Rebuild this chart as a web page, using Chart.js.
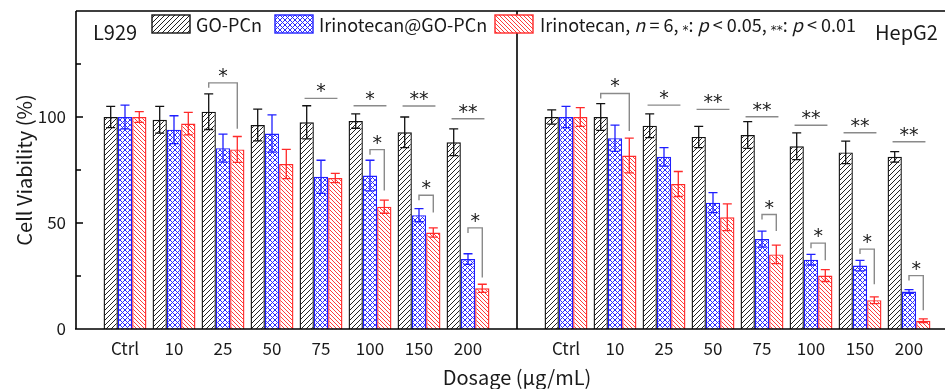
<!DOCTYPE html>
<html>
<head>
<meta charset="utf-8">
<script src="https://cdn.jsdelivr.net/npm/chart.js@4.4.1/dist/chart.umd.min.js"></script>
<style>
html, body { margin: 0; padding: 0; background: #fff; overflow: hidden; }
#wrap { width: 960px; height: 389px; }
</style>
</head>
<body>
<div id="wrap"><canvas id="cv" width="960" height="389"></canvas></div>
<script>
const FONT = '"Noto Sans CJK SC", "Noto Sans", sans-serif';
const STAR_FONT = '"DejaVu Sans", sans-serif';
const TEXT = '#1a1a1a';

// categories
const doses = ['Ctrl', '10', '25', '50', '75', '100', '150', '200'];
const panels = ['L929', 'HepG2'];
const seriesNames = ['GO-PCn', 'Irinotecan@GO-PCn', 'Irinotecan'];
const yMajor = [0, 50, 100];
const yMinor = [25, 75, 125];

// L929, mean and sd (%)
const l929GoPcn = [100, 98.7, 102.5, 96.2, 97.5, 98.1, 92.8, 88.1];
const l929GoPcnSd = [5, 6.3, 8.4, 7.5, 7.8, 3.4, 7.2, 6.3];
const l929IriGo = [100, 94, 85.3, 92.2, 71.8, 72.4, 53.7, 33];
const l929IriGoSd = [5.6, 6.6, 6.6, 8.8, 7.8, 7.2, 3.1, 2.5];
const l929Iri = [100, 96.9, 84.7, 77.8, 71.2, 57.7, 45.5, 19.2];
const l929IriSd = [2.5, 5.3, 6.1, 6.9, 2.2, 3.1, 2.2, 1.9];

// HepG2, mean and sd (%)
const hepGoPcn = [100, 100, 95.9, 90.6, 91.5, 86.2, 83.3, 81.2];
const hepGoPcnSd = [3.4, 6.3, 5.6, 5, 6.3, 6.3, 5.3, 2.5];
const hepIriGo = [100, 90, 81.2, 59.6, 42.4, 32.7, 29.9, 17.7];
const hepIriGoSd = [5, 6.2, 4.4, 4.7, 3.8, 2.5, 2.5, 0.9];
const hepIri = [100, 81.8, 68.4, 52.7, 35.2, 25.2, 13.6, 3.9];
const hepIriSd = [4.4, 8.2, 5.9, 6.3, 4.4, 2.8, 1.6, 0.9];

// significance marks: [group, kind, label, level, leg end]
// kind: 'line' over the group, 'br' GO-PCn vs Irinotecan, 'in' Irinotecan@GO-PCn vs Irinotecan
const l929Marks = [
    [2, 'br', '*', 116.1, 94.5],
    [4, 'line', '*', 108.8],
    [5, 'line', '*', 105.3],
    [5, 'in', '*', 84.6, 65.3],
    [6, 'line', '**', 105.2],
    [6, 'in', '*', 63.1, 54.9],
    [7, 'line', '**', 99.2],
    [7, 'in', '*', 47.7, 24.3],
];
const hepMarks = [
    [1, 'br', '*', 111.1, 93.4],
    [2, 'line', '*', 105.6],
    [3, 'line', '**', 103.6],
    [4, 'line', '**', 100.1],
    [4, 'in', '*', 54, 46.2],
    [5, 'line', '**', 96.1],
    [5, 'in', '*', 40.5, 32.4],
    [6, 'line', '**', 92.6],
    [6, 'in', '*', 37.7, 21.1],
    [7, 'line', '**', 88.3],
    [7, 'in', '*', 25.2, 8.9],
];

// one slot empty at both ends and between the two panels
const labels = ['', ...doses, '', ...doses, ''];
const join = (a, b) => [null, ...a, null, ...b, null];
const L929_OFF = 1, HEP_OFF = 10;

function hatch(color, kind, size) {
    const c = document.createElement('canvas');
    c.width = size; c.height = size;
    const g = c.getContext('2d');
    g.fillStyle = '#fff';
    g.fillRect(0, 0, size, size);
    g.strokeStyle = color;
    g.lineWidth = 1;
    const fwd = () => {
        g.beginPath();
        g.moveTo(-1, size + 1); g.lineTo(size + 1, -1);
        g.moveTo(-1, 1); g.lineTo(1, -1);
        g.moveTo(size - 1, size + 1); g.lineTo(size + 1, size - 1);
        g.stroke();
    };
    const back = () => {
        g.beginPath();
        g.moveTo(-1, -1); g.lineTo(size + 1, size + 1);
        g.moveTo(size - 1, -1); g.lineTo(size + 1, 1);
        g.moveTo(-1, size - 1); g.lineTo(1, size + 1);
        g.stroke();
    };
    if (kind === 'fwd' || kind === 'cross') fwd();
    if (kind === 'back' || kind === 'cross') back();
    return document.getElementById('cv').getContext('2d').createPattern(c, 'repeat');
}

const colors = ['#111111', '#1f1fff', '#ff2a2a'];
const patterns = [hatch('#222', 'fwd', 5), hatch('#2a2aff', 'cross', 5), hatch('#ff3b3b', 'back', 4)];

const datasets = [
    { label: seriesNames[0], data: join(l929GoPcn, hepGoPcn), sd: join(l929GoPcnSd, hepGoPcnSd) },
    { label: seriesNames[1], data: join(l929IriGo, hepIriGo), sd: join(l929IriGoSd, hepIriGoSd) },
    { label: seriesNames[2], data: join(l929Iri, hepIri), sd: join(l929IriSd, hepIriSd) },
].map((d, i) => Object.assign(d, {
    backgroundColor: patterns[i],
    borderColor: colors[i],
    borderWidth: 1.4,
    categoryPercentage: 0.875,
    barPercentage: 1,
}));

const errorBars = {
    id: 'errorBars',
    afterDatasetsDraw(chart) {
        const ctx = chart.ctx, y = chart.scales.y;
        chart.data.datasets.forEach((ds, i) => {
            const meta = chart.getDatasetMeta(i);
            ctx.save();
            ctx.strokeStyle = colors[i];
            ctx.lineWidth = 1.3;
            meta.data.forEach((bar, j) => {
                const v = ds.data[j];
                if (v == null) return;
                const yt = y.getPixelForValue(v + ds.sd[j]);
                const yb = y.getPixelForValue(v - ds.sd[j]);
                ctx.beginPath();
                ctx.moveTo(bar.x, yt); ctx.lineTo(bar.x, yb);
                ctx.moveTo(bar.x - 4.5, yt); ctx.lineTo(bar.x + 4.5, yt);
                ctx.moveTo(bar.x - 4.5, yb); ctx.lineTo(bar.x + 4.5, yb);
                ctx.stroke();
            });
            ctx.restore();
        });
    }
};

const sigMarks = {
    id: 'sigMarks',
    afterDatasetsDraw(chart) {
        const ctx = chart.ctx, y = chart.scales.y;
        const m = [0, 1, 2].map(i => chart.getDatasetMeta(i).data);
        ctx.save();
        ctx.strokeStyle = '#8a8a8a';
        ctx.lineWidth = 1.4;
        ctx.fillStyle = TEXT;
        ctx.font = '19px ' + STAR_FONT;
        ctx.textAlign = 'center';
        ctx.textBaseline = 'alphabetic';
        const draw = (marks, off) => {
            marks.forEach(([g, kind, txt, level, legEnd]) => {
                const k = off + g;
                const yl = y.getPixelForValue(level);
                let x1, x2;
                ctx.beginPath();
                if (kind === 'line') {
                    const w = m[1][k].width * 1.15;
                    x1 = m[1][k].x - w; x2 = m[1][k].x + w;
                    ctx.moveTo(x1, yl); ctx.lineTo(x2, yl);
                } else {
                    x1 = (kind === 'br' ? m[0][k] : m[1][k]).x;
                    x2 = m[2][k].x;
                    ctx.moveTo(x1, yl + 5); ctx.lineTo(x1, yl);
                    ctx.lineTo(x2, yl); ctx.lineTo(x2, y.getPixelForValue(legEnd));
                }
                ctx.stroke();
                ctx.fillText(txt, (x1 + x2) / 2, yl - 1);
            });
        };
        draw(l929Marks, L929_OFF);
        draw(hepMarks, HEP_OFF);
        ctx.restore();
    }
};

function richText(ctx, x, y, parts) {
    parts.forEach(([s, f, dy]) => {
        ctx.font = f;
        ctx.fillText(s, x, y + (dy || 0));
        x += ctx.measureText(s).width;
    });
}

const frame = {
    id: 'frame',
    afterDraw(chart) {
        const ctx = chart.ctx, a = chart.chartArea;
        const xs = chart.scales.x, y = chart.scales.y;
        const sep = xs.getPixelForValue(HEP_OFF - 1);
        ctx.save();
        ctx.strokeStyle = '#000';
        ctx.lineWidth = 1.6;
        ctx.beginPath();
        ctx.moveTo(a.left, a.top); ctx.lineTo(a.right, a.top);
        ctx.moveTo(a.left, a.top); ctx.lineTo(a.left, a.bottom);
        ctx.moveTo(a.left - 1, a.bottom); ctx.lineTo(a.right, a.bottom);
        ctx.moveTo(sep, a.top); ctx.lineTo(sep, a.bottom);
        ctx.moveTo(a.right, a.top); ctx.lineTo(a.right, a.bottom);
        yMajor.forEach(v => { const p = y.getPixelForValue(v); ctx.moveTo(a.left, p); ctx.lineTo(a.left + 7, p); });
        yMinor.forEach(v => { const p = y.getPixelForValue(v); ctx.moveTo(a.left, p); ctx.lineTo(a.left + 5, p); });
        ctx.stroke();

        // panel names
        ctx.fillStyle = TEXT;
        ctx.font = '20px ' + FONT;
        ctx.textBaseline = 'alphabetic';
        ctx.fillText(panels[0], a.left + 17, 40);
        ctx.fillText(panels[1], 875, 40);

        // legend
        const boxes = [[152, 196], [275, 319], [495, 540]];
        boxes.forEach(([bx, tx], i) => {
            ctx.fillStyle = patterns[i];
            ctx.fillRect(bx, 15, 38, 18);
            ctx.strokeStyle = colors[i];
            ctx.lineWidth = 1.4;
            ctx.strokeRect(bx, 15, 38, 18);
        });
        ctx.fillStyle = TEXT;
        const f = '18px ' + FONT, it = 'italic 18px ' + FONT, sm = '12px ' + STAR_FONT;
        richText(ctx, boxes[0][1], 31.5, [[seriesNames[0], f]]);
        richText(ctx, boxes[1][1], 31.5, [[seriesNames[1], f]]);
        richText(ctx, boxes[2][1], 31.5, [
            [seriesNames[2] + ', ', f], ['n', it], [' = 6, ', f], ['*', sm, 2], [': ', f], ['p', it],
            [' < 0.05, ', f], ['**', sm, 2], [': ', f], ['p', it], [' < 0.01', f]
        ]);
        ctx.restore();
    }
};

new Chart(document.getElementById('cv'), {
    type: 'bar',
    data: { labels, datasets },
    plugins: [errorBars, sigMarks, frame],
    options: {
        responsive: false,
        devicePixelRatio: 1,
        animation: false,
        layout: { padding: { top: 11, right: 2, left: 0, bottom: 0 } },
        plugins: { legend: { display: false }, tooltip: { enabled: false } },
        scales: {
            x: {
                offset: false,
                grid: { display: false, drawTicks: false },
                border: { display: false },
                ticks: { autoSkip: false, maxRotation: 0, padding: 9, color: TEXT, font: { family: FONT, size: 17 } },
                title: { display: true, text: 'Dosage (μg/mL)', color: TEXT, font: { family: FONT, size: 20 }, padding: 0 },
                afterFit(s) { s.height = 60; s.paddingLeft = 0; s.paddingRight = 0; }
            },
            y: {
                min: 0,
                max: 150,
                grid: { display: false, drawTicks: false },
                border: { display: false },
                ticks: {
                    stepSize: 25,
                    padding: 10,
                    color: TEXT,
                    font: { family: FONT, size: 17 },
                    callback: v => yMajor.includes(v) ? String(v) : ''
                },
                title: { display: true, text: 'Cell Viability (%)', color: TEXT, font: { family: FONT, size: 20 }, padding: { top: 12 } },
                afterFit(s) { s.width = 76; s.paddingTop = 0; s.paddingBottom = 0; }
            }
        }
    }
});
</script>
</body>
</html>
